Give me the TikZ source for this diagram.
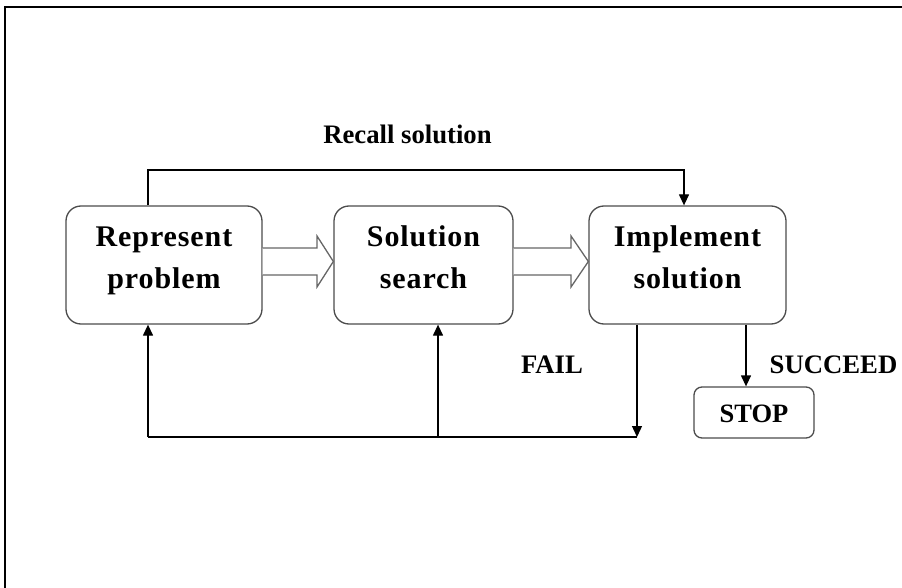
\documentclass[tikz,border=0pt]{standalone}
\usepackage{fontspec}
\setmainfont{Liberation Serif}
\newfontfamily\stagefont[LetterSpace=3]{Liberation Serif}
\usetikzlibrary{arrows.meta}
\begin{document}
\begin{tikzpicture}[x=1pt,y=-1pt,
  stage/.style={draw=black!70, line width=1.3pt, rounded corners=15pt,
    minimum height=118pt, align=center, inner sep=0pt,
    text height=62pt, text depth=16pt,
    font=\stagefont\fontsize{30}{42}\selectfont\bfseries},
  endbox/.style={draw=black!70, line width=1.3pt, rounded corners=8pt,
    minimum width=120pt, minimum height=51pt, inner sep=0pt,
    text height=19pt, text depth=0pt,
    font=\fontsize{26.5}{32}\selectfont\bfseries},
  lab/.style={anchor=base, inner sep=0pt,
    font=\fontsize{26.7}{32}\selectfont\bfseries},
  conn/.style={line width=1.3pt, -{Triangle[length=11pt,width=10pt]}},
  plain/.style={line width=1.3pt},
  hollow/.style={draw=black!60, line width=1.3pt, line join=miter, fill=white}]

\useasboundingbox (0,0) rectangle (902,588);
% frame
\draw[line width=2pt] (5,589) -- (5,7.3) -- (903,7.3);

% stages
\node[stage, minimum width=196pt] (rp) at (164,265) {Represent\\problem};
\node[stage, minimum width=179pt] (ss) at (423.5,265) {Solution\\search};
\node[stage, minimum width=197pt] (is) at (687.5,265) {Implement\\solution};
\node[endbox] (stop) at (754,412.5) {STOP};

% wide arrows between stages
\draw[hollow] (rp.east |- 0,248) -- (317,248) -- (317,236) -- (ss.west |- 0,261.5)
  -- (317,287) -- (317,275) -- (rp.east |- 0,275);
\draw[hollow] (ss.east |- 0,248) -- (571,248) -- (571,236) -- (is.west |- 0,261.5)
  -- (571,287) -- (571,275) -- (ss.east |- 0,275);

% recall path
\draw[conn] (rp.north -| 148,0) -- (148,170) -| (is.north -| 684,0);
\node[lab] (recall) at (407.5,144) {Recall solution};

% fail path
\coordinate (failend) at (637,437);
\coordinate (ret1) at (148,437);
\coordinate (ret2) at (438,437);
\draw[conn] (is.south -| failend) -- (failend);
\draw[plain] (failend) -- (ret1);
\draw[conn] (ret1) -- (rp.south -| ret1);
\draw[conn] (ret2) -- (ss.south -| ret2);
\node[lab] (fail) at (552,373) {FAIL};

% success path
\draw[conn] (is.south -| 746,0) -- (stop.north -| 746,0);
\node[lab] (succ) at (833.5,373) {SUCCEED};
\end{tikzpicture}
\end{document}
